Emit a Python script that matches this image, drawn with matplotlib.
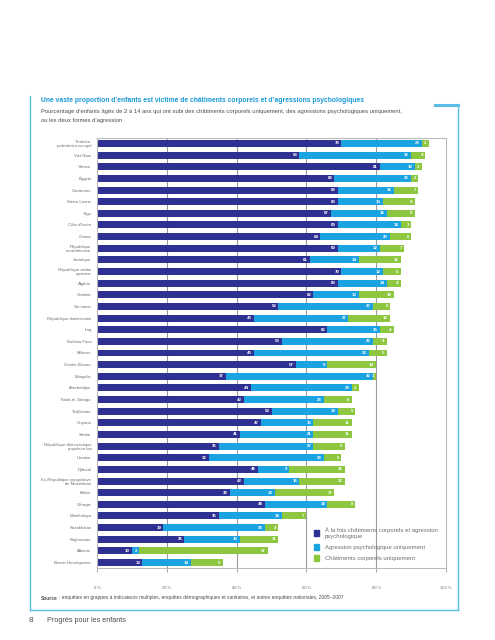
import matplotlib
matplotlib.use('Agg')
import matplotlib.pyplot as plt
from matplotlib.lines import Line2D
from matplotlib.patches import Patch
import numpy as np

plt.rcParams['font.family'] = ['Liberation Sans', 'DejaVu Sans']

countries = ['Territoire\npalestinien occupé', 'Viet Nam', 'Yémen', 'Égypte', 'Cameroun',
             'Sierra Leone', 'Togo', "Côte d'Ivoire", 'Ghana', 'République\ncentrafricaine',
             'Jamaïque', 'République arabe\nsyrienne', 'Algérie', 'Gambie', 'Suriname',
             'République dominicaine', 'Iraq', 'Burkina Faso', 'Bélarus', 'Guinée-Bissau',
             'Mongolie', 'Azerbaïdjan', 'Trinité-et-Tobago', 'Tadjikistan', 'Guyana', 'Serbie',
             'République démocratique\npopulaire lao', 'Ukraine', 'Djibouti',
             'Ex-République yougoslave\nde Macédoine', 'Belize', 'Géorgie', 'Monténégro',
             'Kazakhstan', 'Kirghizistan', 'Albanie', 'Bosnie-Herzégovine']
both = [70, 58, 81, 68, 69, 69, 67, 69, 64, 69, 61, 70, 69, 62, 52, 45, 66, 53, 45, 57,
        37, 44, 42, 50, 47, 41, 35, 32, 46, 42, 38, 48, 35, 19, 25, 10, 13]
psych = [23, 32, 10, 22, 16, 13, 16, 18, 20, 12, 14, 12, 14, 13, 27, 27, 15, 26, 33, 9,
         42, 29, 23, 19, 15, 21, 27, 33, 9, 16, 13, 18, 18, 29, 16, 2, 14]
corporal = [2, 4, 2, 2, 7, 9, 8, 3, 6, 7, 12, 5, 4, 10, 5, 12, 4, 4, 5, 14,
            1, 2, 8, 5, 11, 11, 9, 5, 16, 13, 17, 8, 7, 4, 11, 37, 9]
legend_labels = ['À la fois châtiments corporels et agression\npsychologique',
                 'Agression psychologique uniquement',
                 'Châtiments corporels uniquement']
xticks = [0, 20, 40, 60, 80, 100]

c_both = '#2e3192'
c_psych = '#1aa3e0'
c_corp = '#8dc63f'
grey = '#6d6e70'
frame_col = '#5bbde6'

W, H = 495, 640
fig = plt.figure(figsize=(W / 100, H / 100), dpi=100)

def fx(px):
    return px / W

def fy(py):
    return 1 - py / H

ax = fig.add_axes([fx(97), fy(568), fx(446) - fx(97), fy(138) - fy(568)])

y = np.arange(len(countries))
both_a = np.array(both)
psych_a = np.array(psych)
corp_a = np.array(corporal)
h = 0.6
ax.barh(y, both_a, height=h, color=c_both, zorder=2)
ax.barh(y, psych_a, left=both_a, height=h, color=c_psych, zorder=2)
ax.barh(y, corp_a, left=both_a + psych_a, height=h, color=c_corp, zorder=2)

for i in range(len(countries)):
    ends = [both_a[i], both_a[i] + psych_a[i], both_a[i] + psych_a[i] + corp_a[i]]
    vals = [both_a[i], psych_a[i], corp_a[i]]
    for e, v in zip(ends, vals):
        ax.text(e - 0.6, i, str(v), ha='right', va='center', color='white',
                fontsize=3.2, fontweight='bold', zorder=3)

ax.set_xlim(0, 100)
ax.set_ylim(len(countries) - 1 + 0.47, -0.47)
ax.set_yticks(y)
ax.set_yticklabels(countries, fontsize=3.1, color=grey, linespacing=1.0)
ax.tick_params(axis='y', length=0, pad=4)
ax.set_xticks(xticks)
ax.set_xticklabels([f'{t} %' for t in xticks], fontsize=3.0, color=grey)
ax.tick_params(axis='x', length=3, width=0.6, color='#999999', pad=10)
for t in xticks[1:-1]:
    ax.axvline(t, color='#9a9c9f', lw=0.8, zorder=1)
for s in ax.spines.values():
    s.set_color('#b9b9b9')
    s.set_linewidth(0.8)

handles = [Patch(color=c) for c in (c_both, c_psych, c_corp)]
fig.legend(handles, legend_labels, loc='upper left', bbox_to_anchor=(fx(311), fy(524)),
           frameon=False, fontsize=4.3, labelcolor=grey, handlelength=0.9, handleheight=1.1,
           handletextpad=0.9, labelspacing=0.9, borderpad=0)

# titles
fig.text(fx(41), fy(101), "Une vaste proportion d’enfants est victime de châtiments corporels et d’agressions psychologiques",
         fontsize=4.85, fontweight='bold', color='#1a9ad6', va='center')
fig.text(fx(41), fy(112), "Pourcentage d’enfants âgés de 2 à 14 ans qui ont subi des châtiments corporels uniquement, des agressions psychologiques uniquement,",
         fontsize=4.2, color='#4d4d4f', va='center')
fig.text(fx(41), fy(120.5), "ou les deux formes d’agression", fontsize=4.2, color='#4d4d4f', va='center')

# source: bold word, then the rest placed right after it
src = fig.text(fx(41), fy(598), "Source", fontsize=3.5, fontweight='bold', color='#4d4d4f', va='center')
fig.draw_without_rendering()
bb = src.get_window_extent()
fig.text((bb.x1 + 1) / W, fy(598),
         ": enquêtes en grappes à indicateurs multiples, enquêtes démographiques et sanitaires, et autres enquêtes nationales, 2005–2007",
         fontsize=3.5, color='#4d4d4f', va='center')

# footer
fig.text(fx(29), fy(620), '8', fontsize=6, color='#4d4d4f', va='center')
fig.text(fx(47), fy(620), 'Progrès pour les enfants', fontsize=5.2, color='#4d4d4f', va='center')

# outer frame
lw = 1.0
fig.add_artist(Line2D([fx(29.5), fx(29.5)], [fy(96), fy(610)], color=frame_col, lw=lw))
fig.add_artist(Line2D([fx(29.5), fx(458)], [fy(610), fy(610)], color=frame_col, lw=lw))
fig.add_artist(Line2D([fx(458), fx(458)], [fy(104), fy(610)], color=frame_col, lw=lw))
fig.add_artist(Line2D([fx(435), fx(458)], [fy(105), fy(105)], color=frame_col, lw=2.2))

fig.savefig('out.png', dpi=100)
